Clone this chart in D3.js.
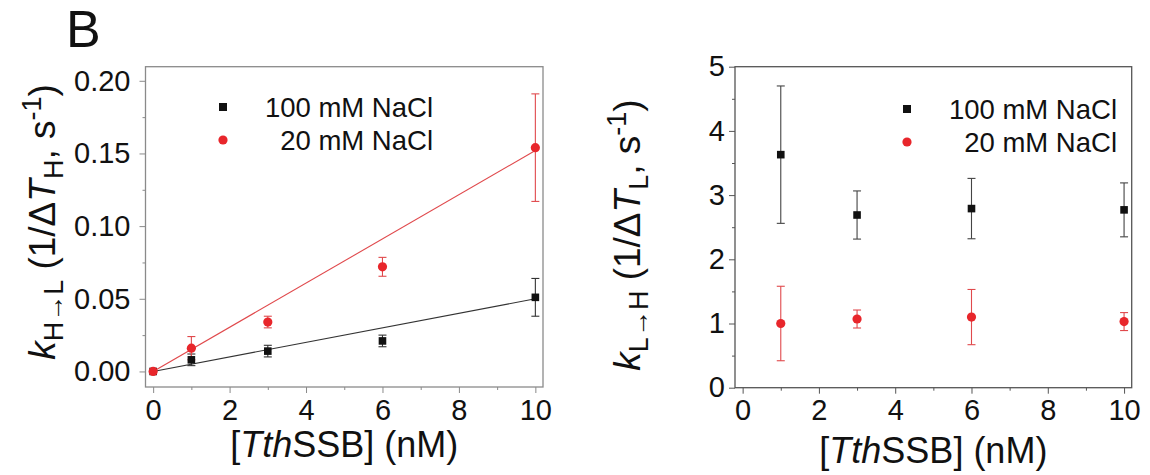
<!DOCTYPE html>
<html>
<head>
<meta charset="utf-8">
<script src="https://cdn.jsdelivr.net/npm/d3@7"></script>
<style>
  html, body { margin: 0; padding: 0; background: #fff; }
  svg { display: block; font-family: "Liberation Sans", Arial, sans-serif; }
</style>
</head>
<body>
<svg id="fig" width="1150" height="475"></svg>
<script>
// SSB concentration (nM)
const concH = [0, 1, 3, 6, 10];
const concL = [1, 3, 6, 10];

// k(H->L) rates, s^-1
const kHL100 = [0, 0.008, 0.014, 0.021, 0.051];
const kHL100Err = [0, 0.004, 0.004, 0.004, 0.013];
const kHL20 = [0, 0.016, 0.034, 0.072, 0.154];
const kHL20Err = [0, 0.008, 0.004, 0.0065, 0.037];

// linear fits through origin (slope, s^-1 nM^-1)
const fitSlope100 = 0.0050;
const fitSlope20 = 0.0152;
const fitRange = [0, 10];

// k(L->H) rates, s^-1
const kLH100 = [3.63, 2.69, 2.79, 2.77];
const kLH100Err = [1.07, 0.375, 0.47, 0.42];
const kLH20 = [1.00, 1.07, 1.10, 1.03];
const kLH20Err = [0.58, 0.14, 0.43, 0.14];

// axis ticks
const xMajor = [0, 2, 4, 6, 8, 10];
const xMinor = [1, 3, 5, 7, 9];
const yMajorH = [0, 0.05, 0.10, 0.15, 0.20];
const yMinorH = [0.025, 0.075, 0.125, 0.175];
const yMajorL = [0, 1, 2, 3, 4, 5];
const yMinorL = [0.5, 1.5, 2.5, 3.5, 4.5];

const seriesNames = ["100 mM NaCl", "20 mM NaCl"];

const BLACK = "#111";
const RED = "#e8262b";

const svg = d3.select("#fig");

function panel(cfg) {
  const g = svg.append("g");
  const x = d3.scaleLinear().domain([-0.2, 10.2]).range([cfg.left, cfg.right]);
  const y = d3.scaleLinear().domain(cfg.yDomain).range([cfg.bottom, cfg.top]);

  // x axis
  g.append("g").attr("transform", `translate(0,${cfg.bottom})`)
    .call(d3.axisBottom(x).tickValues(xMajor).tickSize(6).tickPadding(6).tickFormat(d3.format("d")));
  g.append("g").attr("transform", `translate(0,${cfg.bottom})`)
    .call(d3.axisBottom(x).tickValues(xMinor).tickSize(3).tickFormat(""));
  // y axis
  g.append("g").attr("transform", `translate(${cfg.left},0)`)
    .call(d3.axisLeft(y).tickValues(cfg.yMajor).tickSize(6).tickPadding(cfg.yPad).tickFormat(cfg.yFmt));
  g.append("g").attr("transform", `translate(${cfg.left},0)`)
    .call(d3.axisLeft(y).tickValues(cfg.yMinor).tickSize(3).tickFormat(""));

  g.selectAll(".domain").remove();
  g.selectAll(".tick line").attr("stroke", cfg.frame).attr("stroke-width", 1);
  g.selectAll(".tick text").attr("font-size", 29).attr("fill", "#111")
    .attr("font-family", "Liberation Sans, Arial, sans-serif");

  // frame
  g.append("rect")
    .attr("x", cfg.left).attr("y", cfg.top)
    .attr("width", cfg.right - cfg.left).attr("height", cfg.bottom - cfg.top)
    .attr("fill", "none").attr("stroke", cfg.frame).attr("stroke-width", 1.3);

  // fit lines
  (cfg.fits || []).forEach(f => {
    g.append("line")
      .attr("x1", x(fitRange[0])).attr("y1", y(f.slope * fitRange[0]))
      .attr("x2", x(fitRange[1])).attr("y2", y(f.slope * fitRange[1]))
      .attr("stroke", f.color).attr("stroke-width", 1.1);
  });

  // error bars + markers
  cfg.series.forEach(s => {
    const pts = s.x.map((xv, i) => ({ x: xv, y: s.y[i], e: s.err[i] })).filter(p => p.e > 0);
    const eg = g.append("g").attr("stroke", s.barColor).attr("stroke-width", 1.1);
    eg.selectAll("line.v").data(pts).join("line")
      .attr("x1", d => x(d.x)).attr("x2", d => x(d.x))
      .attr("y1", d => y(d.y - d.e)).attr("y2", d => y(d.y + d.e));
    eg.selectAll("line.t").data(pts).join("line")
      .attr("x1", d => x(d.x) - 4).attr("x2", d => x(d.x) + 4)
      .attr("y1", d => y(d.y + d.e)).attr("y2", d => y(d.y + d.e));
    eg.selectAll("line.b").data(pts).join("line")
      .attr("x1", d => x(d.x) - 4).attr("x2", d => x(d.x) + 4)
      .attr("y1", d => y(d.y - d.e)).attr("y2", d => y(d.y - d.e));
  });
  cfg.series.forEach(s => {
    const pts = s.x.map((xv, i) => ({ x: xv, y: s.y[i] }));
    if (s.shape === "square") {
      g.selectAll(null).data(pts).join("rect")
        .attr("x", d => x(d.x) - 3.8).attr("y", d => y(d.y) - 3.8)
        .attr("width", 7.6).attr("height", 7.6).attr("fill", s.color);
    } else {
      g.selectAll(null).data(pts).join("circle")
        .attr("cx", d => x(d.x)).attr("cy", d => y(d.y)).attr("r", 4.6).attr("fill", s.color);
    }
  });

  // legend
  const lg = g.append("g");
  lg.append("rect").attr("x", cfg.legX - 4).attr("y", cfg.legY - 4).attr("width", 8).attr("height", 8).attr("fill", BLACK);
  lg.append("circle").attr("cx", cfg.legX).attr("cy", cfg.legY + 33).attr("r", 4.6).attr("fill", RED);
  lg.append("text").attr("x", cfg.legTextX).attr("y", cfg.legY + 10).attr("text-anchor", "end")
    .attr("font-size", 27.5).attr("fill", "#111").text(seriesNames[0]);
  lg.append("text").attr("x", cfg.legTextX).attr("y", cfg.legY + 43).attr("text-anchor", "end")
    .attr("font-size", 27.5).attr("fill", "#111").text(seriesNames[1]);

  // x title
  const xt = g.append("text").attr("x", (cfg.left + cfg.right) / 2).attr("y", cfg.xTitleY)
    .attr("text-anchor", "middle").attr("font-size", 36).attr("fill", "#111");
  xt.append("tspan").text("[");
  xt.append("tspan").attr("font-style", "italic").text("Tth");
  xt.append("tspan").text("SSB] (nM)");

  // y title (rotated)
  const yt = g.append("text")
    .attr("transform", `translate(${cfg.yTitleX},${cfg.yTitleY}) rotate(-90)`)
    .attr("text-anchor", "middle").attr("font-size", 37).attr("fill", "#111");
  yt.append("tspan").attr("font-style", "italic").text("k");
  yt.append("tspan").attr("font-size", 27).attr("dy", 8).text(cfg.sub1);
  yt.append("tspan").attr("dy", -8).text(" (1/Δ");
  yt.append("tspan").attr("font-style", "italic").text("T");
  yt.append("tspan").attr("font-size", 27).attr("dy", 8).text(cfg.sub2);
  yt.append("tspan").attr("dy", -8).text(", s");
  yt.append("tspan").attr("font-size", 27).attr("dy", -14).text("-1");
  yt.append("tspan").attr("dy", 14).text(")");
}

// panel label
svg.append("text").attr("x", 66).attr("y", 47).attr("font-size", 52).attr("fill", "#111").text("B");

panel({
  left: 145.5, right: 543, top: 66.7, bottom: 387,
  yDomain: [-0.0107, 0.2097],
  yMajor: yMajorH, yMinor: yMinorH, yFmt: d3.format(".2f"), yPad: 9,
  frame: "#8a8a8a",
  fits: [{ slope: fitSlope100, color: "#333" }, { slope: fitSlope20, color: "#e0494c" }],
  series: [
    { x: concH, y: kHL100, err: kHL100Err, color: BLACK, barColor: "#333", shape: "square" },
    { x: concH, y: kHL20, err: kHL20Err, color: RED, barColor: "#e0494c", shape: "circle" }
  ],
  legX: 223, legY: 107, legTextX: 433,
  xTitleY: 457, yTitleX: 55, yTitleY: 222,
  sub1: "H→L", sub2: "H"
});

panel({
  left: 735, right: 1131.7, top: 66.7, bottom: 387.7,
  yDomain: [0, 5],
  yMajor: yMajorL, yMinor: yMinorL, yFmt: d3.format("d"), yPad: 4,
  frame: "#555",
  fits: [],
  series: [
    { x: concL, y: kLH100, err: kLH100Err, color: BLACK, barColor: "#444", shape: "square" },
    { x: concL, y: kLH20, err: kLH20Err, color: RED, barColor: "#e0494c", shape: "circle" }
  ],
  legX: 907, legY: 109, legTextX: 1117,
  xTitleY: 463, yTitleX: 640, yTitleY: 235,
  sub1: "L→H", sub2: "L"
});
</script>
</body>
</html>
